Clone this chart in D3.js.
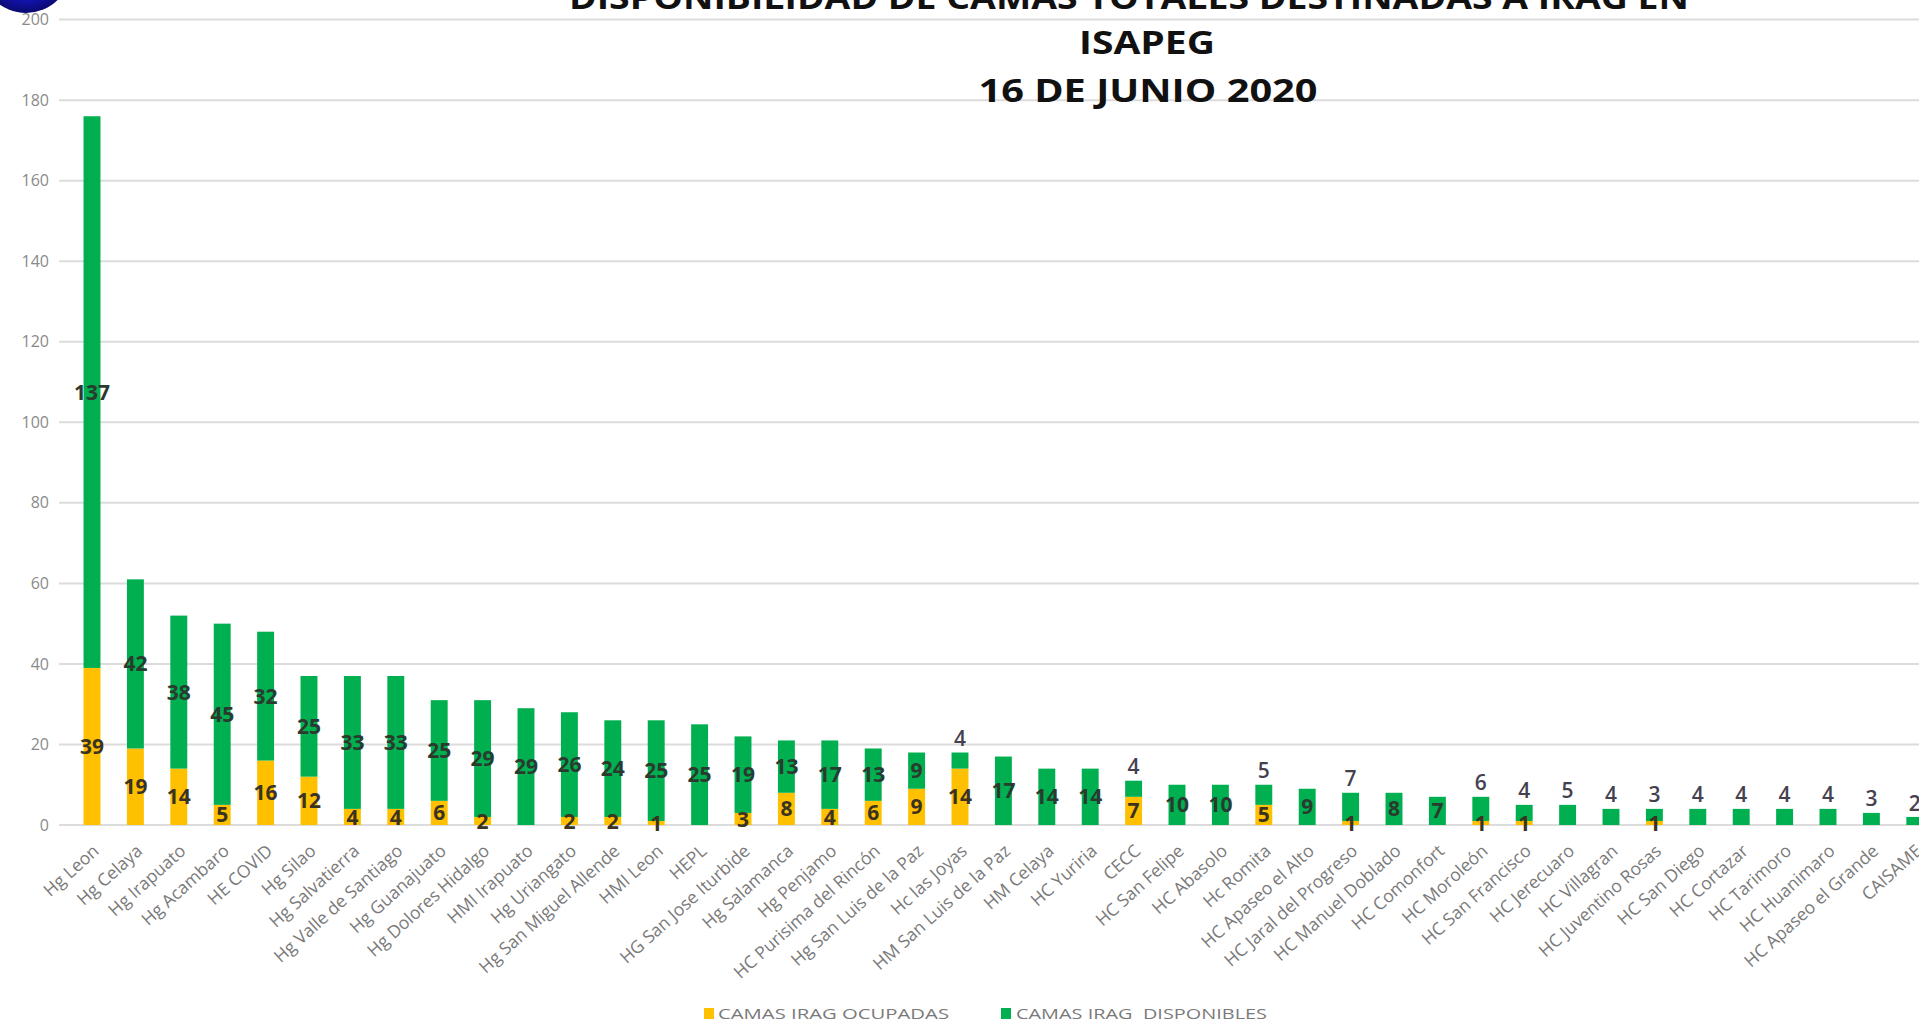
<!DOCTYPE html>
<html><head><meta charset="utf-8">
<script src="https://cdn.jsdelivr.net/npm/d3@7"></script>
<style>
html,body{margin:0;padding:0;background:#fff;overflow:hidden;}
svg{display:block;}
text{font-family:"Open Sans",Lato,sans-serif;}
</style></head>
<body>
<svg id="c" width="1919" height="1022"></svg>
<script>
const categories = ["Hg Leon","Hg Celaya","Hg Irapuato","Hg Acambaro","HE COVID","Hg Silao","Hg Salvatierra","Hg Valle de Santiago","Hg Guanajuato","Hg Dolores Hidalgo","HMI Irapuato","Hg Uriangato","Hg San Miguel Allende","HMI Leon","HEPL","HG San Jose Iturbide","Hg Salamanca","Hg Penjamo","HC Purisima del Rincón","Hg San Luis de la Paz","Hc las Joyas","HM San Luis de la Paz","HM Celaya","HC Yuriria","CECC","HC San Felipe","HC Abasolo","Hc Romita","HC Apaseo el Alto","HC Jaral del Progreso","HC Manuel Doblado","HC Comonfort","HC Moroleón","HC San Francisco","HC Jerecuaro","HC Villagran","HC Juventino Rosas","HC San Diego","HC Cortazar","HC Tarimoro","HC Huanimaro","HC Apaseo el Grande","CAISAME"];
const ocupadas =    [39,19,14,5,16,12,4,4,6,2,0,2,2,1,0,3,8,4,6,9,14,0,0,0,7,0,0,5,0,1,0,0,1,1,0,0,1,0,0,0,0,0,0];
const disponibles = [137,42,38,45,32,25,33,33,25,29,29,26,24,25,25,19,13,17,13,9,4,17,14,14,4,10,10,5,9,7,8,7,6,4,5,4,3,4,4,4,4,3,2];
const yTicks = [0,20,40,60,80,100,120,140,160,180,200];
const titleLines = ["DISPONIBILIDAD DE CAMAS TOTALES DESTINADAS A IRAG EN","ISAPEG","16 DE JUNIO 2020"];
const seriesNames = ["CAMAS IRAG OCUPADAS","CAMAS IRAG  DISPONIBLES"];
const seriesKeys = ["ocupadas","disponibles"];
const colors = ["#FFC000","#00B050"];

const svg = d3.select("#c");
const W = 1919, H = 1022;

// logo fragment
const lg = svg.append("defs").append("radialGradient").attr("id","lg");
lg.append("stop").attr("offset","60%").attr("stop-color","#1616c8");
lg.append("stop").attr("offset","100%").attr("stop-color","#0a0a70");
svg.append("circle").attr("cx",26).attr("cy",-32).attr("r",45).attr("fill","url(#lg)");

const y = d3.scaleLinear().domain([0,200]).range([825,19.6]);
const x = d3.scaleBand().domain(categories).range([70.3,1936.5]).paddingInner(0.61).paddingOuter(0.305);

// gridlines
svg.append("g").selectAll("line").data(yTicks).join("line")
  .attr("x1",59).attr("x2",W).attr("y1",d=>y(d)).attr("y2",d=>y(d))
  .attr("stroke","#dcdcdc").attr("stroke-width",2);

// y axis
const yAxis = d3.axisLeft(y).tickValues(yTicks).tickSize(0).tickPadding(0);
const ya = svg.append("g").attr("transform","translate(49,0)").call(yAxis);
ya.select(".domain").remove();
ya.selectAll("text").attr("fill","#8a8a8a").attr("font-size",16).attr("font-family","'Open Sans',sans-serif");

// data
const rows = categories.map((c,i)=>({cat:c, ocupadas:ocupadas[i], disponibles:disponibles[i]}));
const stacked = d3.stack().keys(seriesKeys)(rows);

svg.append("g").selectAll("g").data(stacked).join("g")
  .attr("fill",(d,i)=>colors[i])
  .selectAll("rect").data(d=>d).join("rect")
  .attr("x",d=>x(d.data.cat)).attr("width",x.bandwidth())
  .attr("y",d=>y(d[1])).attr("height",d=>y(d[0])-y(d[1]));

// labels
const lab = svg.append("g").attr("font-weight","bold").attr("font-size",21).attr("text-anchor","middle");
stacked[0].forEach(d=>{
  if(d.data.ocupadas>0){
    lab.append("text").attr("x",x(d.data.cat)+x.bandwidth()/2).attr("y",y((d[0]+d[1])/2))
      .attr("dy","0.36em").attr("fill","#3a3320").text(d.data.ocupadas);
  }
});
stacked[1].forEach(d=>{
  const o=d.data.ocupadas, v=d.data.disponibles, tot=o+v;
  const above = (o>0 && v<=7) || tot<=5;
  const cx = x(d.data.cat)+x.bandwidth()/2;
  if(above){
    lab.append("text").attr("x",cx).attr("y",y(d[1])-14).attr("dy","0.36em")
      .attr("fill","#45414f").attr("font-weight","600").text(v);
  } else {
    lab.append("text").attr("x",cx).attr("y",y((d[0]+d[1])/2)).attr("dy","0.36em")
      .attr("fill","#2b3a2f").text(v);
  }
});

// x labels
const xl = svg.append("g").attr("font-size",17.5).attr("fill","#7a7a7a").attr("text-anchor","end");
categories.forEach(c=>{
  const cx = x(c)+x.bandwidth()/2;
  xl.append("text").attr("transform",`translate(${cx+4},${848}) rotate(-42)`).attr("dy","0.35em").text(c);
});

// title
const tl = svg.append("g").attr("font-family","Lato,'Open Sans',sans-serif").attr("font-weight","bold").attr("font-size",33).attr("fill","#111").attr("text-anchor","middle");
const tpos = [[1129,9,1120],[1147,54,136],[1148,101.5,339]];
titleLines.forEach((t,i)=>{
  tl.append("text").attr("x",tpos[i][0]).attr("y",tpos[i][1]).attr("textLength",tpos[i][2]).attr("lengthAdjust","spacingAndGlyphs").text(t);
});

// legend
const lgx = [[704,718,231],[1001,1016,251]];
seriesNames.forEach((n,i)=>{
  svg.append("rect").attr("x",lgx[i][0]).attr("y",1008).attr("width",10).attr("height",11).attr("fill",colors[i]);
  svg.append("text").attr("x",lgx[i][1]).attr("y",1019).attr("font-size",15).attr("fill","#7a7a7a")
    .attr("textLength",lgx[i][2]).attr("lengthAdjust","spacingAndGlyphs").style("white-space","pre").text(n);
});
</script>
</body></html>
